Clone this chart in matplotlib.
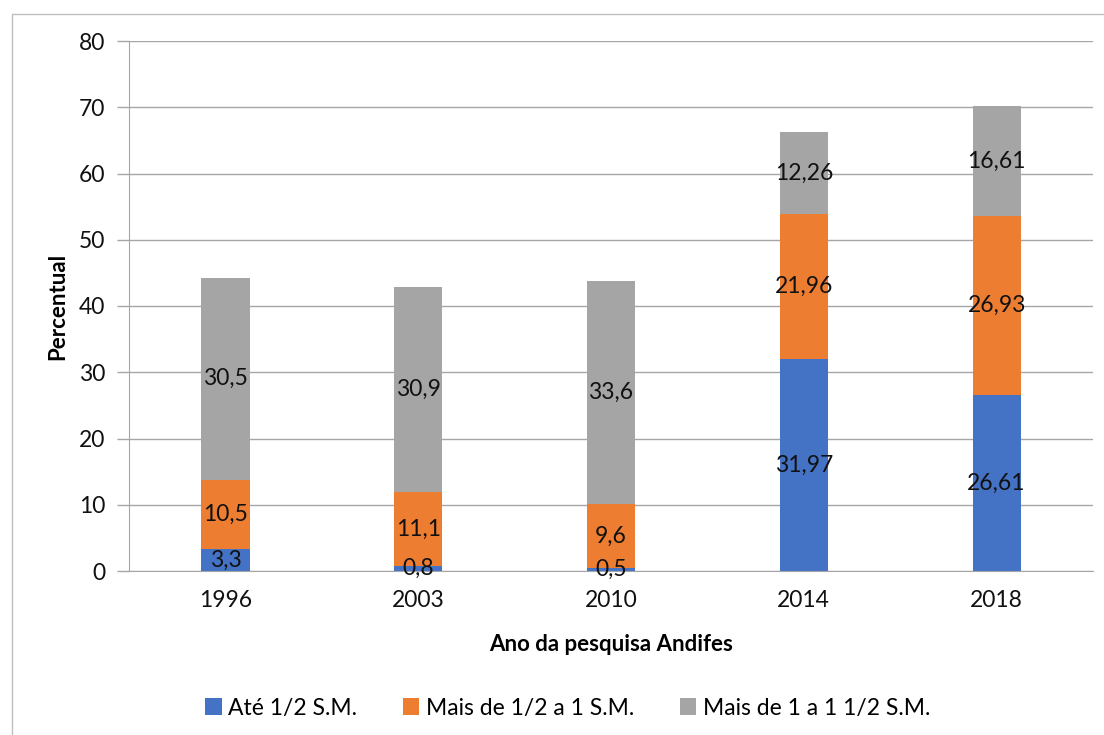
import numpy as np
import matplotlib.pyplot as plt
from matplotlib.patches import Rectangle

plt.rcParams['font.family'] = ['Lato', 'DejaVu Sans']

years = ["1996", "2003", "2010", "2014", "2018"]
ate_meio = [3.3, 0.8, 0.5, 31.97, 26.61]
meio_a_um = [10.5, 11.1, 9.6, 21.96, 26.93]
um_a_um_meio = [30.5, 30.9, 33.6, 12.26, 16.61]
series_names = ["Até 1/2 S.M.", "Mais de 1/2 a 1 S.M.", "Mais de 1 a 1 1/2 S.M."]
colors = ["#4472C4", "#ED7D31", "#A5A5A5"]

fig = plt.figure(figsize=(11.04, 7.35), dpi=100)
fig.patches.append(Rectangle((12 / 1104, -0.01), 1.0, 1 - 14 / 735 + 0.01,
                             transform=fig.transFigure, fill=False,
                             edgecolor="#BFBFBF", linewidth=1))
ax = fig.add_axes([129 / 1104, 1 - 571 / 735, (1093 - 129) / 1104, (571 - 41) / 735])

x = np.arange(len(years))
bottom = np.zeros(len(years))
for vals, name, c in zip([ate_meio, meio_a_um, um_a_um_meio], series_names, colors):
    vals = np.array(vals)
    ax.bar(x, vals, 0.25, bottom=bottom, color=c, label=name, zorder=2)
    for xi, b, v in zip(x, bottom, vals):
        ax.text(xi, b + v / 2, f"{v:g}".replace(".", ","), ha="center", va="center",
                fontsize=16.5, color="#111111", zorder=3)
    bottom += vals

ax.set_xlim(-0.5, 4.5)
ax.set_ylim(0, 80)
ax.set_yticks(range(0, 81, 10))
ax.set_xticks(x)
ax.set_xticklabels(years)
ax.tick_params(axis="both", labelsize=16.5, colors="#111111")
ax.tick_params(axis="y", length=9, color="#A6A6A6", width=1, pad=8)
ax.tick_params(axis="x", length=0, pad=14)
ax.grid(axis="y", color="#A6A6A6", linewidth=1, zorder=0)
for s in ["top", "right"]:
    ax.spines[s].set_visible(False)
ax.spines["left"].set_color("#A6A6A6")
ax.spines["bottom"].set_color("#A6A6A6")

ax.set_ylabel("Percentual", fontsize=16, fontweight="bold", labelpad=8)
ax.set_xlabel("Ano da pesquisa Andifes", fontsize=16, fontweight="bold", labelpad=16)

fig.legend(loc="center", bbox_to_anchor=(568 / 1104, 1 - 708 / 735), ncol=3,
           frameon=False, fontsize=16.5, handlelength=0.7, handleheight=0.7,
           handletextpad=0.3, columnspacing=2.0)

fig.savefig("out.png", dpi=100)
